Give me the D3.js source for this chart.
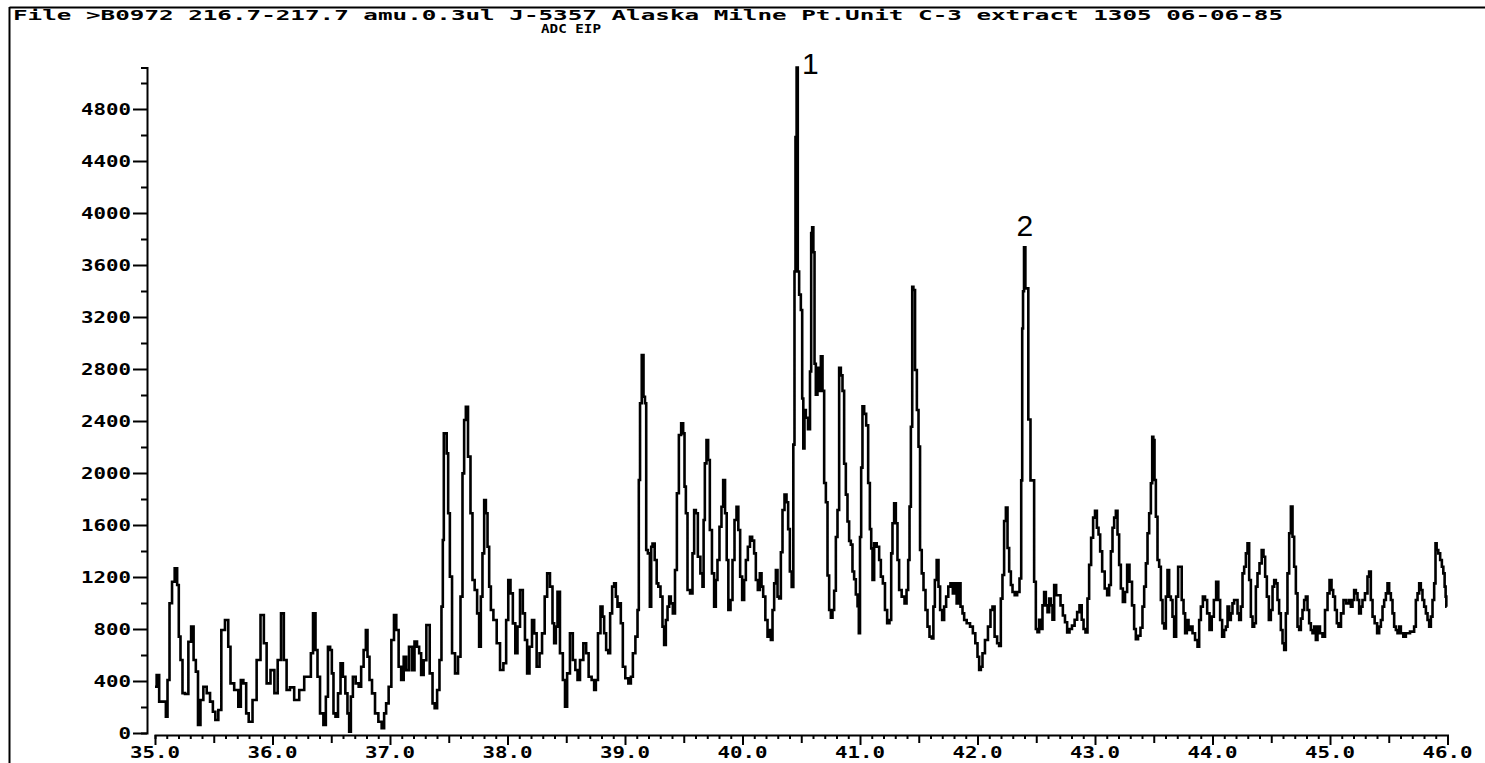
<!DOCTYPE html>
<html><head><meta charset="utf-8">
<script src="https://cdn.jsdelivr.net/npm/d3@7/dist/d3.min.js"></script>
<style>
html,body{margin:0;padding:0;background:#fff;}
svg{display:block;}
text{fill:#000;}
</style></head><body>
<svg id="chart" width="1485" height="763"></svg>
<script>
// ---- data (retention time, min) and abundance ----
const scanTime = [
35.000,35.028,35.043,35.085,35.100,35.113,35.134,35.156,35.179,35.198,35.207,35.227,35.241,35.270,35.298,35.317,35.340,35.355,35.377,35.397,
35.426,35.454,35.483,35.502,35.525,35.553,35.576,35.615,35.632,35.653,35.695,35.723,35.738,35.766,35.786,35.809,35.851,35.879,35.917,35.936,
35.964,36.002,36.030,36.058,36.087,36.106,36.134,36.163,36.206,36.249,36.291,36.319,36.334,36.356,36.376,36.390,36.419,36.447,36.461,36.483,
36.498,36.512,36.526,36.546,36.569,36.589,36.609,36.631,36.645,36.660,36.674,36.694,36.722,36.745,36.764,36.787,36.802,36.815,36.836,36.858,
36.887,36.915,36.943,36.957,36.977,37.000,37.023,37.045,37.062,37.085,37.105,37.128,37.147,37.176,37.198,37.219,37.241,37.255,37.275,37.298,
37.321,37.355,37.369,37.391,37.411,37.431,37.445,37.454,37.462,37.477,37.488,37.502,37.517,37.539,37.568,37.590,37.610,37.624,37.638,37.653,
37.675,37.695,37.709,37.732,37.751,37.766,37.780,37.794,37.809,37.823,37.837,37.851,37.866,37.894,37.922,37.951,37.979,37.998,38.015,38.036,
38.055,38.078,38.092,38.121,38.140,38.157,38.177,38.197,38.220,38.234,38.262,38.283,38.305,38.328,38.347,38.376,38.390,38.404,38.419,38.432,
38.461,38.481,38.498,38.517,38.546,38.566,38.589,38.603,38.631,38.660,38.679,38.702,38.730,38.745,38.759,38.781,38.802,38.815,38.830,38.849,
38.866,38.881,38.900,38.915,38.929,38.943,38.957,38.972,38.991,39.014,39.043,39.057,39.077,39.100,39.113,39.122,39.134,39.151,39.164,39.176,
39.185,39.204,39.219,39.227,39.241,39.264,39.275,39.292,39.312,39.326,39.340,39.355,39.369,39.383,39.397,39.417,39.434,39.449,39.468,39.488,
39.502,39.511,39.525,39.539,39.568,39.581,39.596,39.610,39.630,39.653,39.666,39.672,39.687,39.700,39.715,39.729,39.751,39.766,39.780,39.794,
39.814,39.828,39.843,39.860,39.871,39.888,39.908,39.922,39.942,39.956,39.973,39.987,40.007,40.021,40.036,40.055,40.072,40.092,40.106,40.121,
40.140,40.155,40.169,40.183,40.206,40.220,40.234,40.249,40.262,40.277,40.291,40.305,40.319,40.334,40.347,40.368,40.381,40.396,40.410,40.427,
40.438,40.447,40.455,40.466,40.475,40.489,40.504,40.512,40.523,40.532,40.546,40.569,40.580,40.589,40.597,40.609,40.617,40.631,40.645,40.660,
40.674,40.688,40.702,40.717,40.730,40.745,40.759,40.773,40.787,40.802,40.815,40.830,40.844,40.858,40.872,40.887,40.900,40.915,40.929,40.943,
40.957,40.972,40.986,40.994,41.006,41.014,41.028,41.043,41.062,41.077,41.091,41.100,41.113,41.128,41.156,41.170,41.185,41.204,41.221,41.241,
41.261,41.270,41.283,41.298,41.312,41.326,41.340,41.369,41.389,41.403,41.417,41.426,41.440,41.449,41.460,41.477,41.491,41.505,41.517,41.534,
41.547,41.568,41.581,41.602,41.619,41.630,41.644,41.661,41.675,41.689,41.709,41.723,41.743,41.760,41.780,41.800,41.817,41.828,41.845,41.866,
41.879,41.894,41.922,41.951,41.970,41.993,42.007,42.021,42.036,42.049,42.078,42.100,42.121,42.134,42.157,42.177,42.191,42.206,42.219,42.234,
42.249,42.262,42.277,42.291,42.305,42.328,42.347,42.368,42.376,42.385,42.390,42.402,42.413,42.424,42.441,42.461,42.475,42.489,42.504,42.517,
42.532,42.546,42.560,42.574,42.589,42.603,42.617,42.631,42.645,42.660,42.679,42.696,42.717,42.736,42.753,42.773,42.793,42.815,42.838,42.858,
42.878,42.896,42.909,42.929,42.943,42.957,42.977,42.991,43.009,43.023,43.037,43.051,43.071,43.094,43.113,43.128,43.142,43.156,43.170,43.185,
43.198,43.213,43.227,43.247,43.264,43.283,43.304,43.326,43.340,43.355,43.377,43.397,43.411,43.426,43.440,43.454,43.468,43.483,43.491,43.502,
43.511,43.525,43.539,43.553,43.568,43.581,43.596,43.610,43.624,43.638,43.653,43.666,43.681,43.700,43.715,43.729,43.747,43.760,43.774,43.789,
43.803,43.823,43.837,43.866,43.879,43.894,43.908,43.928,43.945,43.964,43.985,44.002,44.021,44.041,44.058,44.072,44.092,44.106,44.121,44.135,
44.149,44.163,44.177,44.191,44.206,44.220,44.234,44.249,44.262,44.277,44.291,44.305,44.319,44.334,44.347,44.362,44.376,44.390,44.410,44.427,
44.441,44.455,44.470,44.489,44.504,44.518,44.532,44.546,44.560,44.574,44.589,44.603,44.617,44.631,44.645,44.660,44.674,44.688,44.702,44.717,
44.730,44.745,44.759,44.773,44.787,44.802,44.815,44.830,44.844,44.858,44.872,44.887,44.900,44.929,44.943,44.972,44.986,45.006,45.020,45.034,
45.051,45.065,45.079,45.108,45.122,45.156,45.170,45.185,45.198,45.213,45.227,45.241,45.255,45.270,45.283,45.312,45.326,45.340,45.355,45.369,
45.391,45.411,45.426,45.440,45.454,45.468,45.483,45.496,45.511,45.525,45.539,45.553,45.568,45.581,45.596,45.610,45.638,45.653,45.709,45.723,
45.738,45.752,45.766,45.780,45.794,45.809,45.823,45.837,45.851,45.866,45.879,45.894,45.902,45.913,45.930,45.945,45.959,45.970,45.981,45.987,
45.993
];
const abundance = [
356,446,241,241,125,408,998,1164,1267,1138,741,561,307,300,702,818,561,472,62,254,
356,307,241,164,100,177,792,869,664,382,331,203,408,382,151,87,254,561,908,690,
382,484,307,561,920,561,331,351,254,331,433,433,613,920,638,433,151,62,279,664,
638,459,151,126,305,536,433,305,151,10,280,433,382,356,510,638,792,587,408,305,
151,87,36,151,228,356,715,908,792,510,408,587,484,664,484,703,664,613,446,560,
831,459,228,190,331,562,972,1485,2305,2305,2151,1690,1203,613,459,587,1049,1997,2408,2510,
2126,1690,1177,1100,920,664,1049,1382,1792,1690,1433,1126,946,869,690,485,536,869,1177,1074,
843,613,818,1100,920,715,459,664,869,766,510,613,766,1049,1228,1126,844,690,818,1087,
613,408,203,459,767,562,485,408,562,690,613,433,408,331,408,767,972,895,767,638,
613,920,1126,1151,1049,972,997,844,510,421,382,433,613,741,946,1946,2536,2908,2587,2536,
1408,1382,972,1433,1458,1331,1151,1126,1049,818,677,869,972,1049,997,920,1254,1844,2292,2382,
2305,1895,1690,1100,1074,1382,1715,1690,1356,1228,1126,1638,2074,2254,2100,1561,1228,972,1177,1331,
1587,1740,1946,1690,1331,946,1023,1331,1638,1740,1561,1203,1023,1177,1331,1433,1510,1480,1382,1177,
1100,1228,1126,1049,869,741,792,715,946,1151,1254,1049,1035,1390,1715,1834,1775,1568,1242,1124,
2218,3550,4585,5118,3550,3372,3254,2573,2188,2485,2425,2337,2781,3846,3890,3698,2840,2603,2810,2632,
2898,2632,1923,1775,1212,946,887,946,1094,1508,1715,2810,2751,2632,2071,1834,1627,1478,1449,1242,
1183,1065,976,768,1508,2041,2514,2455,2366,1923,1568,1420,1177,1459,1433,1331,1203,1151,946,844,
869,1382,1613,1767,1613,1331,1100,1049,997,1100,1331,1741,2356,3433,3408,2792,2485,2203,1408,1228,
1100,946,818,741,728,972,1177,1331,1126,946,869,972,1049,1126,1151,1074,1151,997,1151,972,
920,869,844,818,767,690,587,485,510,613,715,818,946,972,741,690,669,1034,1215,1631,
1735,1423,1242,1138,1085,1060,1085,1189,1943,3112,3398,3736,3420,3420,2411,1943,1943,1163,800,775,
871,800,982,1085,982,930,1034,982,871,1138,1060,1060,982,904,852,774,800,826,871,930,
982,871,800,774,1034,1293,1502,1657,1709,1579,1527,1397,1242,1111,1060,1138,1397,1579,1657,1709,
1527,1293,1111,1008,1085,1293,1163,982,800,722,748,810,972,1126,1305,1536,1690,1921,2279,2254,
1946,1664,1331,1279,1023,844,805,1049,1254,1049,1023,895,741,1049,1279,1279,1023,920,767,869,
792,818,767,715,664,869,972,1049,1023,920,792,895,1023,1164,1023,869,741,792,818,972,
869,920,997,1023,1023,920,869,972,1228,1279,1382,1459,1177,895,818,844,1126,1228,1305,1408,
1356,1203,1049,869,946,1126,1177,1151,1023,920,792,690,638,920,1228,1536,1741,1510,1279,1074,
818,792,880,946,1023,1049,946,844,792,767,818,715,818,767,741,946,1074,1177,1100,1049,
946,844,818,920,1023,997,1023,972,1023,1100,1074,1023,920,972,1023,1074,1203,1241,1023,895,
844,767,818,869,972,1023,1074,1151,1074,1023,920,818,792,767,818,767,741,767,780,818,
1023,1074,1151,1100,1023,972,920,869,818,895,1023,1151,1459,1408,1382,1331,1279,1228,1126,1049,
972
];
const yTickValues = d3.range(0, 5001, 200);
const yLabelValues = d3.range(0, 4801, 400);
const xMinorTicks = d3.range(350, 461).map(d => d / 10);
const xLabelValues = d3.range(35, 47);
const headerLine1 = "File >B0972  216.7-217.7 amu.0.3ul J-5357 Alaska Milne Pt.Unit C-3 extract 1305 06-06-85";
const headerLine2 = "ADC EIP";
const peakNames = ["1", "2"];
const peakTimes = [40.466, 42.402];
const peakHeights = [5118, 3736];

// ---- drawing ----
const svg = d3.select("#chart");
const mono = "'DejaVu Sans Mono', 'Liberation Mono', monospace";

const x = d3.scaleLinear().domain([35, 46]).range([155, 1447.5]);
const y = d3.scaleLinear().domain([0, 5120]).range([733, 67.4]);

// frame
svg.append("line").attr("x1", 9.5).attr("x2", 1485).attr("y1", 7.5).attr("y2", 7.5)
  .attr("stroke", "#000").attr("stroke-width", 2);
svg.append("line").attr("x1", 9.5).attr("x2", 9.5).attr("y1", 7).attr("y2", 763)
  .attr("stroke", "#000").attr("stroke-width", 2);

// header
svg.append("text").attr("x", 13).attr("y", 20)
  .attr("font-family", mono).attr("font-size", 14).attr("font-weight", "bold")
  .attr("textLength", 1270).attr("lengthAdjust", "spacingAndGlyphs")
  .text(headerLine1);
svg.append("text").attr("x", 541).attr("y", 33)
  .attr("font-family", mono).attr("font-size", 12.5).attr("font-weight", "bold")
  .attr("textLength", 60).attr("lengthAdjust", "spacingAndGlyphs")
  .text(headerLine2);

// y axis
const yAxis = d3.axisLeft(y).tickValues(yTickValues).tickSizeOuter(0)
  .tickSize(6).tickFormat("");
const gy = svg.append("g").attr("transform", "translate(147,0)").call(yAxis);
gy.select(".domain").attr("stroke-width", 2);
gy.selectAll(".tick line").attr("stroke-width", 2)
  .attr("x2", d => (d % 400 === 0 ? -14 : -6));
svg.append("g").selectAll("text").data(yLabelValues).join("text")
  .attr("x", 131).attr("y", d => y(d) + 5.5)
  .attr("text-anchor", "end")
  .attr("font-family", mono).attr("font-size", 15).attr("font-weight", "bold")
  .attr("textLength", d => String(d).length * 12.5)
  .attr("lengthAdjust", "spacingAndGlyphs")
  .text(d => d);

// x axis
const xAxis = d3.axisBottom(x).tickValues(xMinorTicks).tickSizeOuter(0)
  .tickSize(4).tickFormat("");
const gx = svg.append("g").attr("transform", "translate(0,735)").call(xAxis);
gx.select(".domain").attr("stroke-width", 2);
gx.selectAll(".tick line").attr("stroke-width", 2)
  .attr("y2", d => {
    const k = Math.round(d * 10) % 10;
    return k === 0 ? 10 : (k === 5 ? 8 : 4);
  });
svg.append("g").selectAll("text").data(xLabelValues).join("text")
  .attr("x", d => x(d)).attr("y", 758)
  .attr("text-anchor", "middle")
  .attr("font-family", mono).attr("font-size", 16).attr("font-weight", "bold")
  .attr("textLength", 50).attr("lengthAdjust", "spacingAndGlyphs")
  .text(d => d.toFixed(1));

// trace
const pts = scanTime.map((t, i) => [t, abundance[i]]);
const line = d3.line().x(d => x(d[0])).y(d => y(d[1])).curve(d3.curveStep);
svg.append("path").datum(pts)
  .attr("d", line).attr("fill", "none")
  .attr("stroke", "#000").attr("stroke-width", 2.6)
  .attr("stroke-linejoin", "miter");

// peak labels
svg.append("g").selectAll("text").data(peakNames).join("text")
  .attr("x", (d, i) => x(peakTimes[i]) + (i === 0 ? 13 : 0))
  .attr("y", (d, i) => y(peakHeights[i]) + (i === 0 ? 6 : -11))
  .attr("text-anchor", "middle")
  .attr("font-family", "'Liberation Sans', Arial, sans-serif")
  .attr("font-size", 30)
  .text(d => d);
</script>
</body></html>
